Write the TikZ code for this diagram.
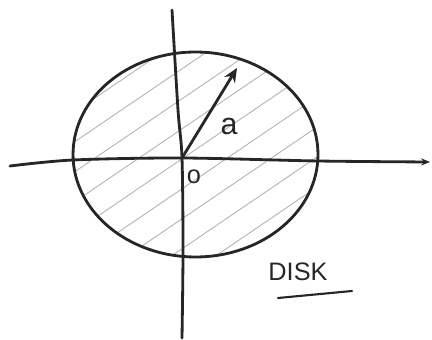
\documentclass[tikz,border=0pt]{standalone}
\usepackage{fontspec}
\setmainfont{Liberation Sans}
\usetikzlibrary{arrows.meta,shapes.geometric}
\begin{document}
\begin{tikzpicture}[x=0.02cm,y=-0.02cm,
  ink/.style={line width=1.6pt,color=black!85,line cap=round,line join=round},
  hatch/.style={line width=0.5pt,color=black!30},
  lbl/.style={font=\LARGE,inner sep=0pt,text=black!85}]
\useasboundingbox (0,0) rectangle (432,340);
% hatching
\begin{scope}
  \clip (195.5,154.5) ellipse [x radius=122.5, y radius=102.5];
  \foreach \k in {-12,...,12} {
    \draw[hatch] (60,{150+\k*30+0.68*135}) -- (330,{150+\k*30-0.68*135});
  }
\end{scope}
% disk boundary
\node[draw,ink,ellipse,inner sep=0pt,minimum width=4.9cm,minimum height=4.1cm] (disk) at (195.5,154.5) {};
% axes
\coordinate (xl) at (10,166);
\coordinate (xr) at (430,162);
\coordinate (yt) at (172,10);
\coordinate (yb) at (182,338);
\coordinate (O) at (182,158);
\coordinate (A) at (237,68);
\draw[ink,-{Stealth[length=5pt,width=4pt]}] plot[smooth] coordinates {(xl) (73,160) (O) (318,161) (xr)};
\draw[ink] plot[smooth] coordinates {(yt) (178,110) (O) (183,250) (yb)};
% radius
\draw[ink,-{Stealth[length=8pt,width=7pt]}] (O) -- (A);
\node[lbl] (a) at (229,126) {a};
\node[lbl,font=\Large] (o) at (194,177) {o};
\node[lbl,font=\Large] (d) at (298,272) {DISK};
\coordinate (u1) at (278,298);
\coordinate (u2) at (352,291);
\draw[ink,line width=1.2pt] (u1) -- (u2);
\end{tikzpicture}
\end{document}
